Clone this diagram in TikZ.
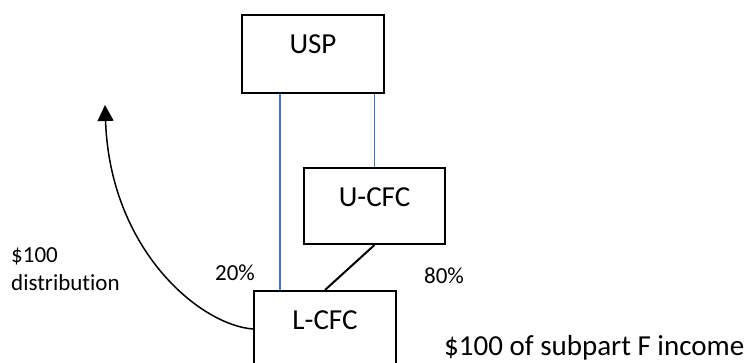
\documentclass[tikz,border=0pt]{standalone}
\usepackage{fontspec}
\setmainfont{Carlito}[Ligatures=NoCommon]
\usetikzlibrary{arrows.meta}
\usetikzlibrary{calc,positioning}
\definecolor{linkblue}{RGB}{68,114,196}

\begin{document}
\begin{tikzpicture}[x=1pt,y=-1pt]
	\tikzstyle{entity}=[draw, line width=2pt, rectangle, inner sep=0pt,
	minimum width=142pt, text height=39pt, text depth=39pt,
	font=\fontsize{29}{35}\selectfont]
	\tikzstyle{share}=[font=\fontsize{23}{28}\selectfont, inner sep=0pt]
	\tikzstyle{owner}=[linkblue, line width=1.4pt]
	\clip (0,0) rectangle (751,363);
	\node[entity, anchor=north west] (usp) at (241,14) {USP};
	\node[entity, anchor=north west, minimum width=141pt, text depth=37pt] (ucfc) at (303,167) {U-CFC};
	\node[entity, anchor=north west, text height=38pt] (lcfc) at (253,290) {L-CFC};
	\coordinate (usp20) at ([xshift=39pt]usp.south west);
	\draw[owner] (usp20) -- (usp20 |- lcfc.north);
	\draw[owner] (usp.south -| ucfc.north) -- (ucfc.north);
	\draw[line width=2pt] (ucfc.south) -- (lcfc.north);
	\node[share, anchor=base] (p20) at (235,280) {20\%};
	\node[share, anchor=base] (p80) at (444,283) {80\%};
	\node[share, anchor=base west, font=\fontsize{29}{35}\selectfont] (income) at (444,355) {\$100 of subpart F income};
	\node[share, anchor=base west, align=left] (dist) at (11,290) {\$100\\distribution};
	% distribution goes up to USP
	\coordinate (up) at (105,105);
	\draw[line width=1.5pt, -{Triangle[width=16pt,length=16pt]}] (lcfc.base west) .. controls (200,325) and (110,250) .. (up);
\end{tikzpicture}
\end{document}
